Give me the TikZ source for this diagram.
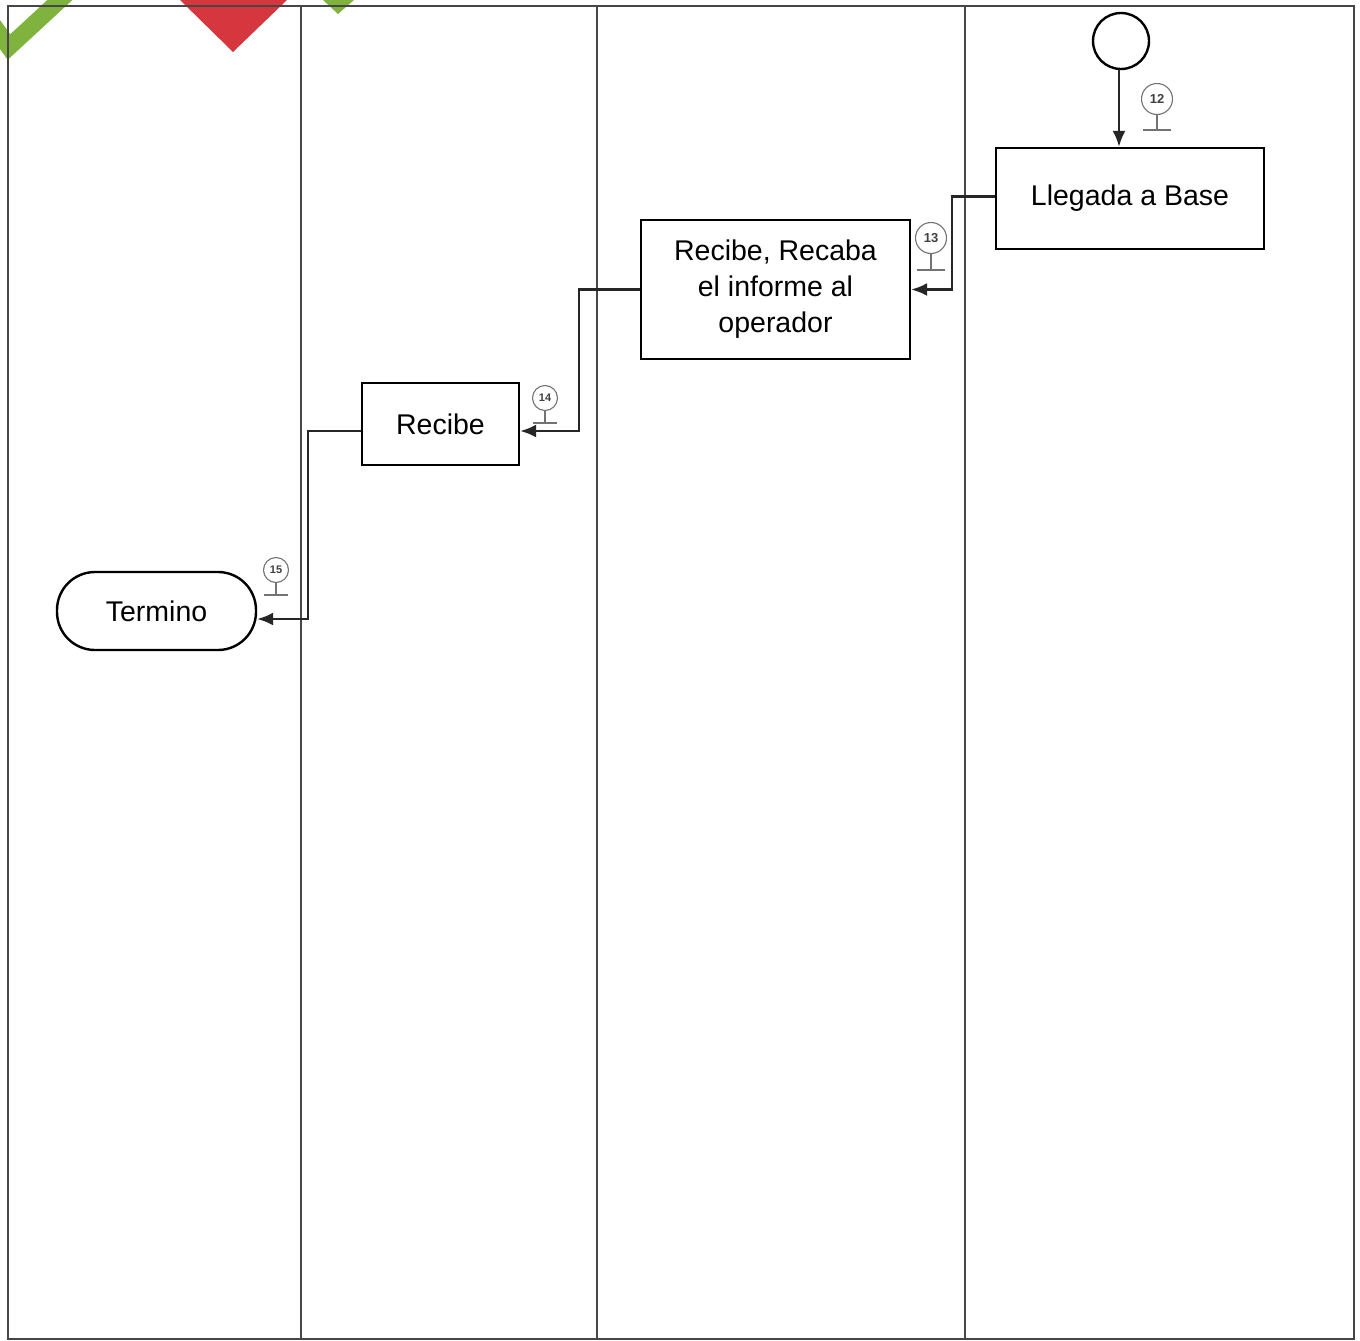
\documentclass[tikz,border=0pt]{standalone}
\usepackage{fontspec}
\setmainfont{Liberation Sans}
\usetikzlibrary{arrows.meta}
\definecolor{leafgreen}{RGB}{128,178,62}
\definecolor{markred}{RGB}{214,54,62}
\definecolor{laneline}{RGB}{70,70,70}
\begin{document}
\begin{tikzpicture}[x=1pt,y=-1pt,
  lane/.style={draw=laneline,line width=1.4pt},
  proc/.style={draw=black,line width=2.4pt,align=center,inner sep=0pt,
    font=\fontsize{28.5}{36}\selectfont},
  term/.style={proc,rounded corners=38pt},
  conn/.style={draw=black!85,line width=2.2pt,
    -{Latex[length=16pt,width=13pt]}},
  tagcircle/.style={circle,draw=black!55,line width=1.1pt,minimum size=31pt,
    inner sep=0pt,font=\fontsize{13}{13}\selectfont\bfseries,text=black!75},
  tagstem/.style={draw=black!55,line width=1.1pt}]
\useasboundingbox (0,0) rectangle (1360,1341);
\fill[white] (0,0) rectangle (1360,1341);

% logo fragments along the top edge
\draw[leafgreen,line width=17pt] (-12,18) -- (9,47) -- (75,-14);
\fill[leafgreen] (323,0) -- (354,0) -- (338,14) -- cycle;
\fill[markred] (180,0) -- (287,0) -- (233,52) -- cycle;

% swimlane frame
\draw[lane] (8,6) rectangle (1354,1339);
\draw[lane] (301,6) -- (301,1339);
\draw[lane] (597,6) -- (597,1339);
\draw[lane] (965,6) -- (965,1339);

% nodes
\node[circle,draw=black,line width=2.4pt,minimum size=56pt,inner sep=0pt] (start) at (1121,41) {};
\node[proc,minimum width=268pt,minimum height=101pt] (llegada) at (1130,198.5) {Llegada a Base};
\node[proc,minimum width=269pt,minimum height=139pt] (recaba) at (775.5,289.5)
  {Recibe, Recaba\\el informe al\\operador};
\node[proc,minimum width=157pt,minimum height=82pt] (recibe) at (440.5,424) {Recibe};
\node[term,minimum width=199pt,minimum height=78pt] (termino) at (156.5,611) {Termino};

% connectors
\draw[conn] ([xshift=-2pt]start.south) -- ([xshift=-2pt]start.south |- llegada.north);
\draw[conn] ([yshift=2pt]llegada.west) -- ++(-43,0) |- (recaba.east);
\draw[conn] (recaba.west) -- ++(-61,0) |- ([yshift=-7pt]recibe.east);
\draw[conn] ([yshift=-7pt]recibe.west) -- ++(-53,0) |- ([yshift=-8pt]termino.east);

% step tags
\node[tagcircle] (t12) at (1157,99) {12};
\draw[tagstem] (t12.south) -- (1157,130) (1143,130) -- (1171,130);
\node[tagcircle] (t13) at (931,238) {13};
\draw[tagstem] (t13.south) -- (931,270) (917,270) -- (945,270);
\node[tagcircle,minimum size=25pt,font=\fontsize{11}{11}\selectfont\bfseries] (t14) at (545,398) {14};
\draw[tagstem] (t14.south) -- (545,423) (533,423) -- (557,423);
\node[tagcircle,minimum size=25pt,font=\fontsize{11}{11}\selectfont\bfseries] (t15) at (276,570) {15};
\draw[tagstem] (t15.south) -- (276,595) (264,595) -- (288,595);
\end{tikzpicture}
\end{document}
